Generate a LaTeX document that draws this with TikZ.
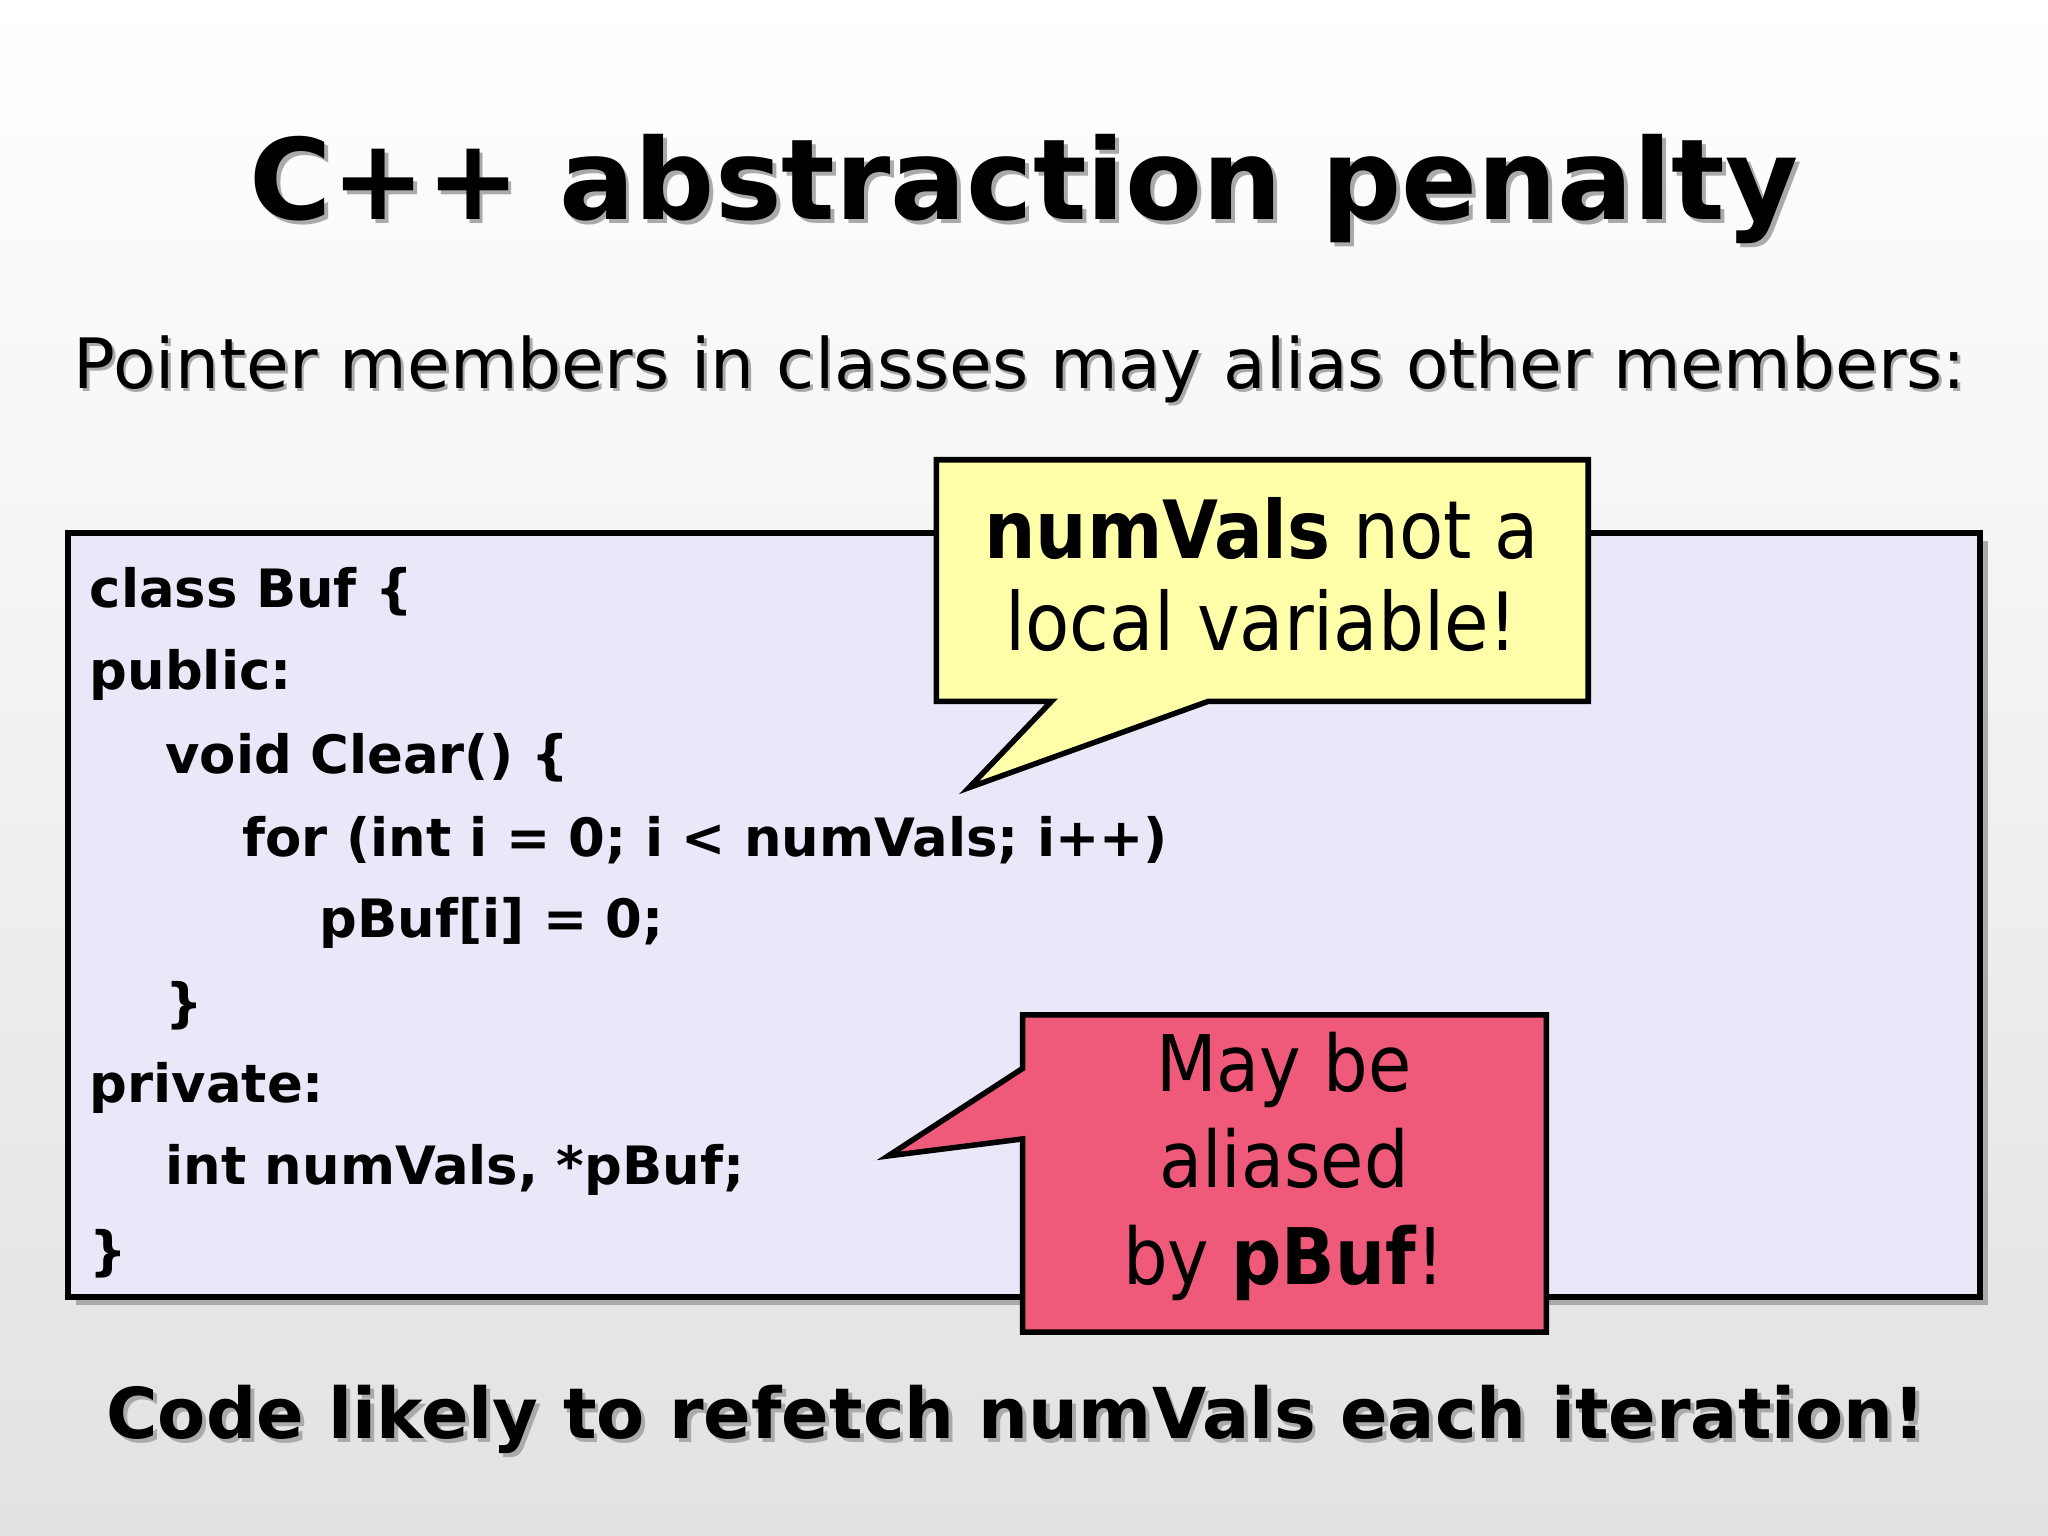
\documentclass[tikz,border=0pt]{standalone}
\usepackage{fontspec}
\usepackage{graphicx}
\setmainfont{DejaVu Sans}
\newfontfamily\condf{DejaVu Sans Condensed}
\definecolor{bgb}{RGB}{226,226,226}
\definecolor{codebg}{RGB}{234,232,248}
\definecolor{yel}{RGB}{255,255,170}
\definecolor{pinkr}{RGB}{240,90,122}
\definecolor{shad}{RGB}{170,170,170}
\tikzset{
  code/.style={anchor=west,font=\fontsize{11.5}{13}\selectfont\bfseries,inner sep=0},
  call/.style={draw=black,line width=1.2pt},
  calltext/.style={align=center,font=\condf\fontsize{17.5}{20}\selectfont},
}
\begin{document}
\begin{tikzpicture}[x=0.01cm,y=-0.01cm]
\useasboundingbox (0,0) rectangle (1568,1176);
\shade[top color=white,bottom color=bgb] (0,0) rectangle (1568,1176);
% title
\node[text=shad] (titles) at (787,148) {\resizebox{11.85cm}{!}{\bfseries C++ abstraction penalty}};
\node (title) at (784,145) {\resizebox{11.85cm}{!}{\bfseries C++ abstraction penalty}};
\node[text=shad] (subs) at (783,285) {\resizebox{14.48cm}{!}{Pointer members in classes may alias other members:}};
\node (sub) at (781,283) {\resizebox{14.48cm}{!}{Pointer members in classes may alias other members:}};
% code box
\fill[shad] (58,414) rectangle (1522,999);
\draw[fill=codebg,line width=1.2pt] (52,408) rectangle (1516,993);
\node[code] (l1) at (68,453) {class Buf \{};
\node[code] (l2) at (68,517) {public:};
\node[code] (l3) at (126,580) {void Clear() \{};
\node[code] (l4) at (185,643) {for (int i = 0; i < numVals; i++)};
\node[code] (l5) at (244,707) {pBuf[i] = 0;};
\node[code] (l6) at (126,770) {\}};
\node[code] (l7) at (68,833) {private:};
\node[code] (l8) at (126,896) {int numVals, *pBuf;};
\node[code] (l9) at (68,960) {\}};
% yellow callout
\draw[call,fill=yel] (717,352) -- (1216,352) -- (1216,537) -- (925,537) -- (742,603) -- (805,537) -- (717,537) -- cycle;
\node[calltext] (ycall) at (966,440) {\textbf{numVals} not a\\local variable!};
% red callout
\draw[call,fill=pinkr] (783,777) -- (1184,777) -- (1184,1020) -- (783,1020) -- (783,872) -- (680,885) -- (783,818) -- cycle;
\node[calltext,font=\condf\fontsize{17}{21}\selectfont] (rcall) at (983,893) {May be\\aliased\\by \textbf{pBuf}!};
% bottom
\node[text=shad] (bots) at (781,1090) {\resizebox{13.92cm}{!}{\bfseries Code likely to refetch numVals each iteration!}};
\node (bot) at (778,1087) {\resizebox{13.92cm}{!}{\bfseries Code likely to refetch numVals each iteration!}};
\end{tikzpicture}
\end{document}
